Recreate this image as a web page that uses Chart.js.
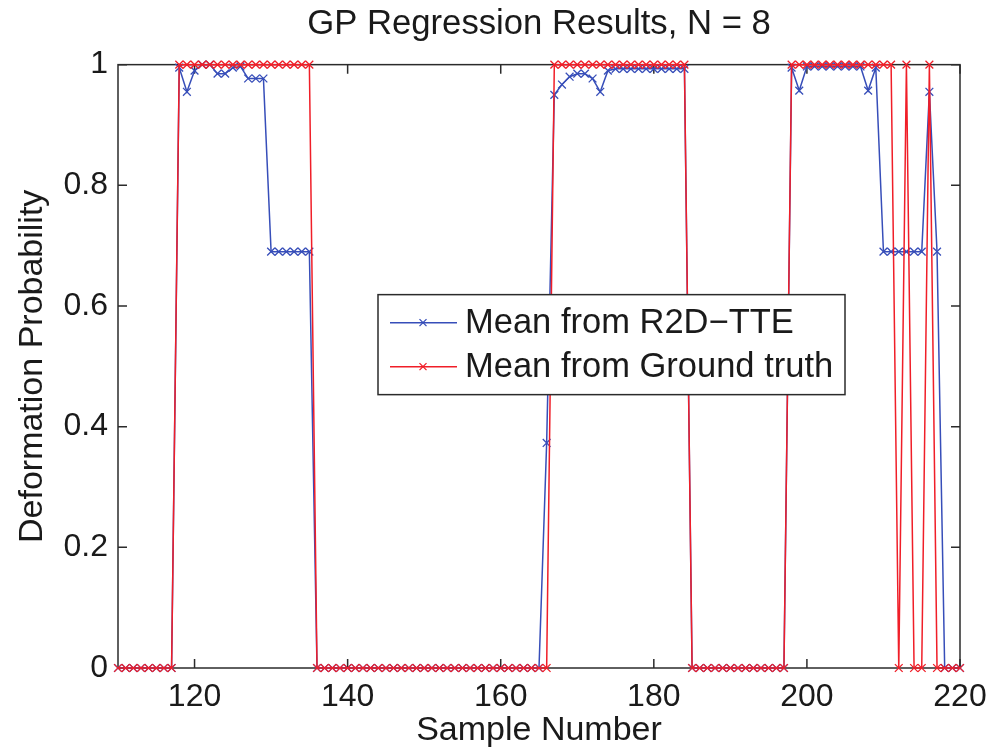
<!DOCTYPE html>
<html>
<head>
<meta charset="utf-8">
<script src="https://cdn.jsdelivr.net/npm/chart.js@4.4.1/dist/chart.umd.min.js"></script>
<style>
  html, body { margin: 0; padding: 0; background: #fff; }
  canvas { display: block; }
</style>
</head>
<body>
<canvas id="gp" width="992" height="751"></canvas>
<script>
// sample numbers 110 .. 220
var samples = [
  110, 111, 112, 113, 114, 115, 116, 117, 118, 119,
  120, 121, 122, 123, 124, 125, 126, 127, 128, 129,
  130, 131, 132, 133, 134, 135, 136, 137, 138, 139,
  140, 141, 142, 143, 144, 145, 146, 147, 148, 149,
  150, 151, 152, 153, 154, 155, 156, 157, 158, 159,
  160, 161, 162, 163, 164, 165, 166, 167, 168, 169,
  170, 171, 172, 173, 174, 175, 176, 177, 178, 179,
  180, 181, 182, 183, 184, 185, 186, 187, 188, 189,
  190, 191, 192, 193, 194, 195, 196, 197, 198, 199,
  200, 201, 202, 203, 204, 205, 206, 207, 208, 209,
  210, 211, 212, 213, 214, 215, 216, 217, 218, 219,
  220
];

// blue: mean from R2D-TTE
var meanR2D = [
  0, 0, 0, 0, 0, 0, 0, 0, 0.995, 0.955,
  0.99, 1, 1, 0.985, 0.985, 0.995, 0.997, 0.977, 0.977, 0.977,
  0.69, 0.69, 0.69, 0.69, 0.69, 0.69, 0, 0, 0, 0,
  0, 0, 0, 0, 0, 0, 0, 0, 0, 0,
  0, 0, 0, 0, 0, 0, 0, 0, 0, 0,
  0, 0, 0, 0, 0, 0, 0.373, 0.95, 0.967, 0.98,
  0.985, 0.985, 0.977, 0.955, 0.99, 0.993, 0.993, 0.993, 0.993, 0.993,
  0.993, 0.993, 0.993, 0.993, 0.993, 0, 0, 0, 0, 0,
  0, 0, 0, 0, 0, 0, 0, 0, 0.995, 0.957,
  0.997, 0.997, 0.997, 0.997, 0.997, 0.997, 0.997, 0.997, 0.957, 0.995,
  0.69, 0.69, 0.69, 0.69, 0.69, 0.69, 0.955, 0.69, 0, 0,
  0
];

// red: mean from ground truth
var meanTruth = [
  0, 0, 0, 0, 0, 0, 0, 0, 1, 1,
  1, 1, 1, 1, 1, 1, 1, 1, 1, 1,
  1, 1, 1, 1, 1, 1, 0, 0, 0, 0,
  0, 0, 0, 0, 0, 0, 0, 0, 0, 0,
  0, 0, 0, 0, 0, 0, 0, 0, 0, 0,
  0, 0, 0, 0, 0, 0, 0, 1, 1, 1,
  1, 1, 1, 1, 1, 1, 1, 1, 1, 1,
  1, 1, 1, 1, 1, 0, 0, 0, 0, 0,
  0, 0, 0, 0, 0, 0, 0, 0, 1, 1,
  1, 1, 1, 1, 1, 1, 1, 1, 1, 1,
  1, 1, 0, 1, 0, 0, 1, 0, 0, 0,
  0
];

var xTicks = [120, 140, 160, 180, 200, 220];
var yTicks = [0, 0.2, 0.4, 0.6, 0.8, 1];
var seriesNames = ['Mean from R2D\u2212TTE', 'Mean from Ground truth'];
var blue = 'rgb(55, 78, 185)';
var red = 'rgb(240, 30, 40)';

var font = "'Liberation Sans', Arial, Helvetica, sans-serif";
Chart.defaults.font.family = font;
Chart.defaults.color = '#1a1a1a';

function toPoints(vals) {
  return samples.map(function (s, i) { return { x: s, y: vals[i] }; });
}

function drawCross(c, x, y, r) {
  c.beginPath();
  c.moveTo(x - r, y - r); c.lineTo(x + r, y + r);
  c.moveTo(x - r, y + r); c.lineTo(x + r, y - r);
  c.stroke();
}

// matlab style box with inward ticks + legend inside the axes
var boxPlugin = {
  id: 'matlabBox',
  beforeDatasetsDraw: function (chart) {
    var a = chart.chartArea, c = chart.ctx;
    var xs = chart.scales.x, ys = chart.scales.y;
    c.save();
    c.strokeStyle = '#2b2b2b';
    c.lineWidth = 1.5;
    c.strokeRect(a.left, a.top, a.right - a.left, a.bottom - a.top);
    c.beginPath();
    xTicks.forEach(function (v) {
      var px = xs.getPixelForValue(v);
      c.moveTo(px, a.bottom); c.lineTo(px, a.bottom - 9);
      c.moveTo(px, a.top); c.lineTo(px, a.top + 9);
    });
    yTicks.forEach(function (v) {
      var py = ys.getPixelForValue(v);
      c.moveTo(a.left, py); c.lineTo(a.left + 9, py);
      c.moveTo(a.right, py); c.lineTo(a.right - 9, py);
    });
    c.stroke();
    c.restore();
  },
  afterDraw: function (chart) {
    var a = chart.chartArea, c = chart.ctx;
    var left = a.left + 260, top = a.top + 230, w = 467, h = 100;
    c.save();
    c.fillStyle = '#fff';
    c.fillRect(left, top, w, h);
    c.strokeStyle = '#2b2b2b';
    c.lineWidth = 1.5;
    c.strokeRect(left, top, w, h);
    chart.data.datasets.forEach(function (ds, i) {
      var y = top + 28 + i * 44;
      c.strokeStyle = ds.borderColor;
      c.lineWidth = 1.5;
      c.beginPath();
      c.moveTo(left + 12, y); c.lineTo(left + 79, y);
      c.stroke();
      c.lineWidth = 1.3;
      drawCross(c, left + 45, y, 3.5);
      c.fillStyle = '#1a1a1a';
      c.font = '34.5px ' + font;
      c.textBaseline = 'middle';
      c.textAlign = 'left';
      c.fillText(seriesNames[i], left + 87, y + 1);
    });
    c.restore();
  }
};

new Chart(document.getElementById('gp').getContext('2d'), {
  type: 'line',
  data: {
    datasets: [{
      label: seriesNames[0],
      data: toPoints(meanR2D),
      borderColor: blue,
      backgroundColor: blue,
      borderWidth: 1.5,
      pointStyle: 'crossRot',
      pointRadius: 5.5,
      pointBorderWidth: 1.3,
      tension: 0,
      clip: false,
      order: 1
    }, {
      label: seriesNames[1],
      data: toPoints(meanTruth),
      borderColor: red,
      backgroundColor: red,
      borderWidth: 1.5,
      pointStyle: 'crossRot',
      pointRadius: 5.5,
      pointBorderWidth: 1.3,
      tension: 0,
      clip: false,
      order: 0
    }]
  },
  options: {
    responsive: false,
    animation: false,
    devicePixelRatio: 1,
    layout: { padding: { left: 0, right: 32, top: 0, bottom: 0 } },
    plugins: {
      legend: { display: false },
      tooltip: { enabled: false },
      title: {
        display: true,
        fullSize: false,
        text: 'GP Regression Results, N = 8',
        color: '#1a1a1a',
        font: { size: 34.7, weight: 'normal' },
        padding: { top: 4, bottom: 19 }
      }
    },
    scales: {
      x: {
        type: 'linear',
        min: 110,
        max: 220,
        afterBuildTicks: function (s) { s.ticks = xTicks.map(function (v) { return { value: v }; }); },
        afterFit: function (s) { s.height = 83; s.paddingLeft = 0; s.paddingRight = 0; },
        grid: { display: false, drawTicks: false },
        border: { display: false },
        ticks: { font: { size: 32 }, color: '#1a1a1a', padding: 10, maxRotation: 0, autoSkip: false },
        title: { display: true, text: 'Sample Number', color: '#1a1a1a', font: { size: 34 }, padding: 0 }
      },
      y: {
        min: 0,
        max: 1,
        afterBuildTicks: function (s) { s.ticks = yTicks.map(function (v) { return { value: v }; }); },
        afterFit: function (s) { s.width = 118; s.paddingTop = 0; s.paddingBottom = 0; },
        grid: { display: false, drawTicks: false },
        border: { display: false },
        ticks: {
          font: { size: 32 }, color: '#1a1a1a', padding: 10,
          callback: function (v) { return String(v); }
        },
        title: { display: true, text: 'Deformation Probability', color: '#1a1a1a', font: { size: 34 }, padding: { top: 12, bottom: 0 } }
      }
    }
  },
  plugins: [boxPlugin]
});
</script>
</body>
</html>
